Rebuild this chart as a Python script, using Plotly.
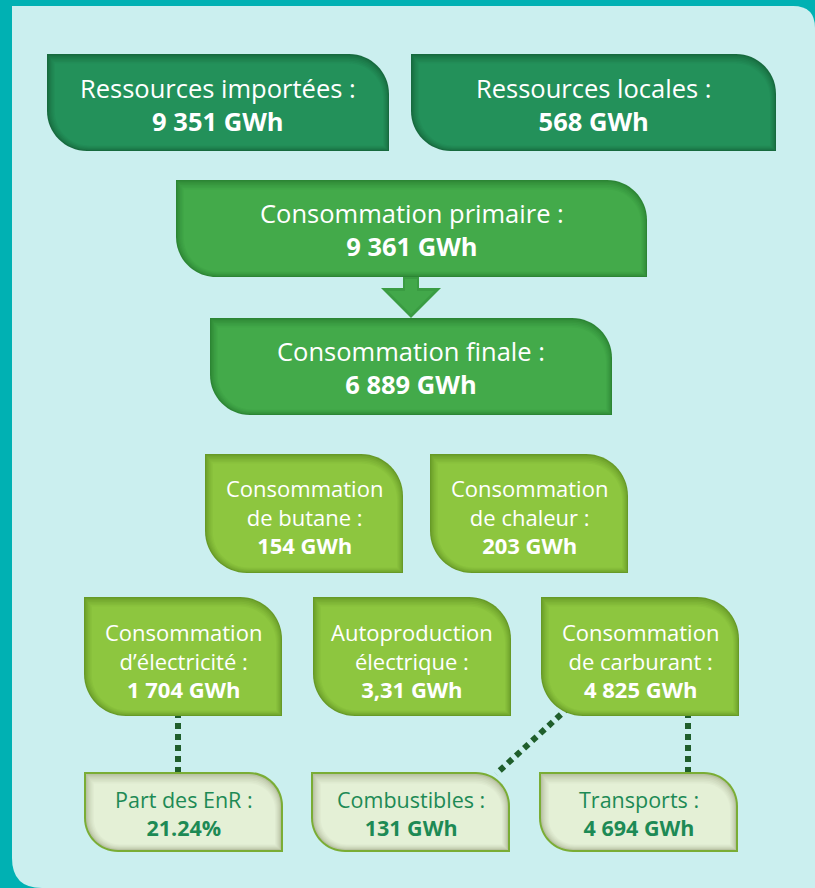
import plotly.graph_objects as go

W, H = 815, 888

# ---------------- data (texts & values) ----------------
box_labels = [
    ["Ressources importées :"],
    ["Ressources locales :"],
    ["Consommation primaire :"],
    ["Consommation finale :"],
    ["Consommation", "de butane :"],
    ["Consommation", "de chaleur :"],
    ["Consommation", "d’électricité :"],
    ["Autoproduction", "électrique :"],
    ["Consommation", "de carburant :"],
    ["Part des EnR :"],
    ["Combustibles :"],
    ["Transports :"],
]
box_values = ["9 351 GWh", "568 GWh", "9 361 GWh", "6 889 GWh", "154 GWh", "203 GWh",
              "1 704 GWh", "3,31 GWh", "4 825 GWh", "21.24%", "131 GWh", "4 694 GWh"]

# ---------------- layout geometry (x0, y0, x1, y1, radius, style, text shift) ----------------
box_geom = [
    (47, 54, 389, 151, 40, "dark", 2),
    (411, 54, 776, 151, 40, "dark", 2),
    (176, 180, 647, 277, 40, "mid", 1),
    (210, 318, 612, 415, 40, "mid", 1),
    (205, 454, 403, 573, 42, "lime", 3),
    (430, 454, 628, 573, 42, "lime", 3),
    (84, 597, 282, 716, 42, "lime", 4),
    (313, 597, 511, 716, 42, "lime", 4),
    (541, 597, 739, 716, 42, "lime", 4),
    (84, 772, 283, 852, 34, "pale", 1),
    (311, 772, 510, 852, 34, "pale", 1),
    (539, 772, 738, 852, 34, "pale", 1),
]
styles = {
    "dark": dict(main="#23915A", edge="#176A3E", text="#FFFFFF", size=25.5),
    "mid": dict(main="#43AA4A", edge="#2C8534", text="#FFFFFF", size=25.5),
    "lime": dict(main="#8DC63F", edge="#679A27", text="#FFFFFF", size=22),
    "pale": dict(main="#E4F0D6", edge="#B9C2A4", text="#1D8A55", size=21.5, border="#7AAD35"),
}

connectors = [((178, 712), (178, 774)), ((688, 712), (688, 774)), ((569, 707), (496, 774))]


def hex2rgb(h):
    h = h.lstrip("#")
    return tuple(int(h[i:i + 2], 16) for i in (0, 2, 4))


def blend(c1, c2, t):
    a, b = hex2rgb(c1), hex2rgb(c2)
    return "rgb(%d,%d,%d)" % tuple(round(a[i] + (b[i] - a[i]) * t) for i in range(3))


def leaf(x0, y0, x1, y1, r):
    k = 0.5523 * r
    return (f"M {x0},{y0} L {x1 - r},{y0} C {x1 - r + k},{y0} {x1},{y0 + r - k} {x1},{y0 + r} "
            f"L {x1},{y1} L {x0 + r},{y1} C {x0 + r - k},{y1} {x0},{y1 - r + k} {x0},{y1 - r} Z")


shapes = []
# panel
pr_tr, pr_bl = 22, 30
px0, py0, px1, py1 = 12, 6, W, H
shapes.append(dict(type="path", xref="x", yref="y", layer="below",
                   path=(f"M {px0},{py0} L {px1 - pr_tr},{py0} Q {px1},{py0} {px1},{py0 + pr_tr} "
                         f"L {px1},{py1} L {px0 + pr_bl},{py1} Q {px0},{py1} {px0},{py1 - pr_bl} Z"),
                   fillcolor="#CBEFEF", line=dict(width=0)))

# connectors (dotted)
for (a, b) in connectors:
    shapes.append(dict(type="line", xref="x", yref="y", x0=a[0], y0=a[1], x1=b[0], y1=b[1],
                       line=dict(color="#1F5E2B", width=6, dash="6px,5px")))

# arrow between primaire and finale
shapes.append(dict(type="path", xref="x", yref="y",
                   path="M 403,276 L 419,276 L 419,288 L 441,288 L 411,318 L 381,288 L 403,288 Z",
                   fillcolor="#3A9C42", line=dict(width=0)))
shapes.append(dict(type="path", xref="x", yref="y",
                   path="M 405,279 L 417,279 L 417,291 L 434,291 L 411,314 L 388,291 L 405,291 Z",
                   fillcolor="#42A84A", line=dict(width=0)))

annotations = []
n_layers = 7
for (x0, y0, x1, y1, r, st, shift), labels, val in zip(box_geom, box_labels, box_values):
    s = styles[st]
    if "border" in s:
        shapes.append(dict(type="path", xref="x", yref="y", path=leaf(x0, y0, x1, y1, r),
                           fillcolor=s["border"], line=dict(width=0)))
        x0, y0, x1, y1, r = x0 + 2, y0 + 2, x1 - 2, y1 - 2, r - 2
    for k in range(n_layers):
        t = k / (n_layers - 1)
        dl, dt, dr, db = 1.3 * k, 1.6 * k, 1.0 * k, 0.9 * k
        shapes.append(dict(type="path", xref="x", yref="y",
                           path=leaf(x0 + dl, y0 + dt, x1 - dr, y1 - db, max(r - k, 4)),
                           fillcolor=blend(s["edge"], s["main"], t ** 0.7), line=dict(width=0)))
    text = "<br>".join(labels + [f"<b>{val}</b>"])
    annotations.append(dict(
        x=(x0 + x1) / 2, y=(y0 + y1) / 2 + shift, xref="x", yref="y", showarrow=False,
        xanchor="center", yanchor="middle", align="center", text=text,
        font=dict(family="Open Sans", size=s["size"], color=s["text"])))

fig = go.Figure(go.Scatter(x=[], y=[], mode="markers", hoverinfo="skip", showlegend=False))
fig.update_layout(
    width=W, height=H, margin=dict(l=0, r=0, t=0, b=0),
    paper_bgcolor="#00B1B3", plot_bgcolor="rgba(0,0,0,0)",
    xaxis=dict(range=[0, W], visible=False, fixedrange=True),
    yaxis=dict(range=[H, 0], visible=False, fixedrange=True),
    shapes=shapes, annotations=annotations, showlegend=False,
)
fig.write_html("out.html", config={"displayModeBar": False},
               post_script="document.body.style.margin='0';document.body.style.overflow='hidden';")
